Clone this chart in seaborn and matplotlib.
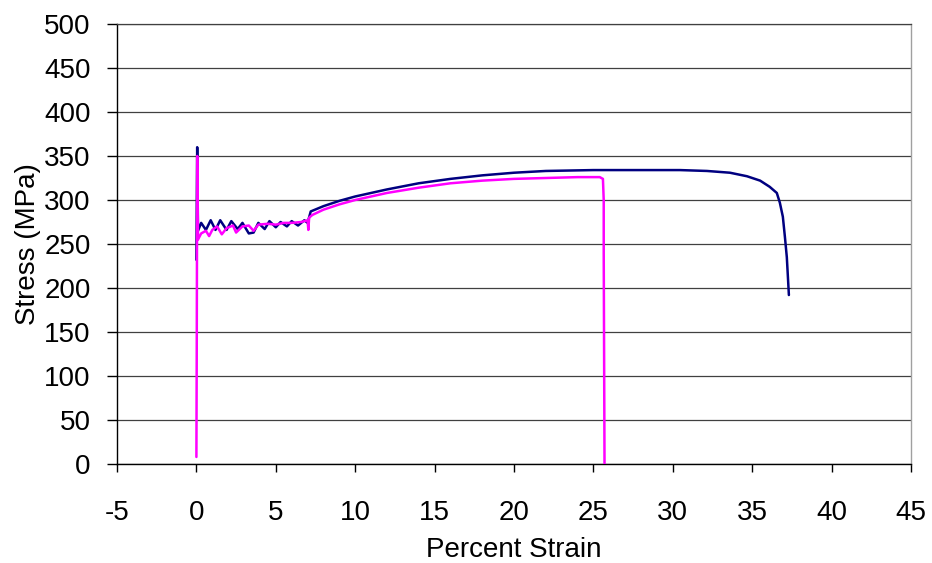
import matplotlib
matplotlib.use("Agg")
import matplotlib.pyplot as plt
import seaborn as sns
import pandas as pd

# Series 1 (navy)
strain_a = [0.0, 0.05, 0.1, 0.3, 0.6, 0.9, 1.2, 1.5, 1.9, 2.2, 2.6, 2.9, 3.3, 3.6, 3.9,
            4.3, 4.6, 5.0, 5.3, 5.7, 6.0, 6.4, 6.8, 7.0, 7.2, 8, 9, 10, 12, 14, 16, 18,
            20, 22, 25, 28, 30.45, 32.15, 33.6, 34.67, 35.5, 36.1, 36.55, 36.74, 36.93,
            37.06, 37.18, 37.25, 37.31]
stress_a = [232, 360, 265, 274, 266, 277, 266, 277, 266, 276, 267, 274, 262, 263, 274,
            267, 276, 269, 275, 270, 276, 271, 277, 274, 287, 293, 299, 304, 312, 319, 324, 328,
            331, 333, 334, 334, 334, 333, 331, 327, 322, 315, 308, 297, 281,
            258, 235, 212, 192]

# Series 2 (magenta)
strain_b = [0.0, 0.02, 0.05, 0.1, 0.3, 0.6, 0.8, 1.0, 1.3, 1.6, 1.9, 2.3, 2.5, 2.9, 3.3,
            3.6, 3.9, 4.5, 5.0, 5.5, 6.0, 6.6, 7.0, 7.05, 7.1, 7.3, 8, 9, 10, 12, 14, 16,
            18, 20, 22, 24, 25.4, 25.6, 25.65, 25.65, 25.7]
stress_b = [8, 120, 350, 255, 262, 265, 259, 266, 270, 261, 268, 271, 263, 270, 271,
            265, 272, 273, 272, 274, 274, 275, 277, 266, 280, 283, 289, 295, 300, 308, 314, 319,
            322, 324, 325, 326, 326, 324, 300, 240, 0]

x_ticks = list(range(-5, 50, 5))
y_ticks = list(range(0, 550, 50))

df_a = pd.DataFrame({"strain": strain_a, "stress": stress_a})
df_b = pd.DataFrame({"strain": strain_b, "stress": stress_b})

sns.set_style("white")
plt.rcParams["font.family"] = ["Liberation Sans", "DejaVu Sans"]
plt.rcParams["text.color"] = "black"
plt.rcParams["axes.labelcolor"] = "black"
plt.rcParams["xtick.color"] = "black"
plt.rcParams["ytick.color"] = "black"

fig = plt.figure(figsize=(9.32, 5.63), dpi=100)
ax = fig.add_axes([117/932, 99/563, (911-117)/932, (464-24)/563])

sns.lineplot(data=df_a, x="strain", y="stress", sort=False, estimator=None,
             color="#000080", lw=1.8, ax=ax, zorder=3)
sns.lineplot(data=df_b, x="strain", y="stress", sort=False, estimator=None,
             color="#FF00FF", lw=1.8, ax=ax, zorder=4)

ax.set_xlim(-5, 45)
ax.set_ylim(0, 500)
ax.set_xticks(x_ticks)
ax.set_yticks(y_ticks)
ax.set_xticklabels([str(t) for t in x_ticks], fontsize=20)
ax.set_yticklabels([str(t) for t in y_ticks], fontsize=20)
ax.yaxis.grid(True, color="#404040", lw=0.9)
ax.xaxis.grid(False)
ax.set_axisbelow(True)

for s in ["left", "bottom"]:
    ax.spines[s].set_color("black")
    ax.spines[s].set_linewidth(1.0)
ax.spines["right"].set_color("#a0a0a0")
ax.spines["right"].set_linewidth(1.0)
ax.spines["top"].set_color("#404040")
ax.spines["top"].set_linewidth(0.9)

ax.tick_params(axis="x", direction="out", length=6, width=1, pad=20, bottom=True)
ax.tick_params(axis="y", direction="out", length=7, width=1, pad=12, left=True)

ax.set_xlabel("Percent Strain", fontsize=20, labelpad=8)
ax.set_ylabel("Stress (MPa)", fontsize=20, labelpad=2)

fig.savefig("out.png", dpi=100)
